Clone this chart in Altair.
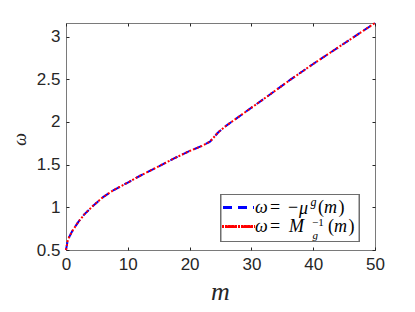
import altair as alt
import pandas as pd

# data
m_vals = [0, 0.25, 0.5, 1, 2, 3, 4.4, 6, 7.65, 10, 12, 15, 17.4, 20, 22, 23.3,
          24.65, 26, 28.7, 32, 36.2, 40, 45, 50]
omega_mu = [0.5, 0.6, 0.65, 0.72, 0.83, 0.92, 1.02, 1.12, 1.2, 1.29, 1.37, 1.48,
            1.57, 1.66, 1.72, 1.77, 1.88, 1.96, 2.10, 2.27, 2.49, 2.68, 2.92, 3.16]
omega_M = [0.5, 0.6, 0.65, 0.72, 0.83, 0.92, 1.02, 1.12, 1.2, 1.29, 1.37, 1.48,
           1.57, 1.66, 1.72, 1.77, 1.88, 1.96, 2.10, 2.27, 2.49, 2.68, 2.92, 3.16]
x_ticks = [0, 10, 20, 30, 40, 50]
y_ticks = [0.5, 1, 1.5, 2, 2.5, 3]

df_mu = pd.DataFrame({"m": m_vals, "omega": omega_mu})
df_M = pd.DataFrame({"m": m_vals, "omega": omega_M})

W, H = 309, 227
AX = "#262626"
LBL_FONT = "Liberation Sans"
MATH_FONT = "Liberation Serif"

xscale = alt.Scale(domain=[0, 50], nice=False, zero=False)
yscale = alt.Scale(domain=[0.5, 3.16], nice=False, zero=False)

x_bottom = alt.Axis(values=x_ticks, orient="bottom", offset=-3, tickSize=3, domain=False,
                    grid=False, labelPadding=6, labelFontSize=17, labelFont=LBL_FONT,
                    labelColor=AX, tickColor=AX, labelFlush=False, format="d",
                    title="m", titleFont=MATH_FONT,
                    titleFontStyle="italic", titleFontWeight="normal", titleFontSize=26,
                    titleColor=AX, titleX=154, titleY=52, titleBaseline="alphabetic",
                    titleAlign="center")
y_left = alt.Axis(values=y_ticks, orient="left", offset=-3, tickSize=3, domain=False,
                  grid=False, labelPadding=6, labelFontSize=17, labelFont=LBL_FONT,
                  labelColor=AX, tickColor=AX, labelFlush=False, format="~r",
                  title="ω", titleFont=MATH_FONT,
                  titleFontStyle="italic", titleFontWeight="normal", titleFontSize=18,
                  titleColor=AX, titleX=-49, titleY=116, titleBaseline="middle",
                  titleAlign="center", titleAngle=-90)
x_top = alt.Axis(values=x_ticks, orient="top", offset=-3, tickSize=3, domain=False,
                 grid=False, labels=False, tickColor=AX, title=None)
y_right = alt.Axis(values=y_ticks, orient="right", offset=-3, tickSize=3, domain=False,
                   grid=False, labels=False, tickColor=AX, title=None)

blue = alt.Chart(df_mu).mark_line(color="#0000ff", strokeWidth=2, strokeDash=[8, 5]).encode(
    x=alt.X("m:Q", scale=xscale, axis=x_bottom),
    y=alt.Y("omega:Q", scale=yscale, axis=y_left),
)
red = alt.Chart(df_M).mark_line(color="#ff0000", strokeWidth=2, strokeDash=[2, 2]).encode(
    x=alt.X("m:Q", scale=xscale, axis=x_top),
    y=alt.Y("omega:Q", scale=yscale, axis=y_right),
)

# legend (drawn by hand, to allow sub/superscripts)
box = alt.Chart(df_mu).mark_rect(fill="white", stroke="#6e6e6e", strokeWidth=1).encode(
    x=alt.value(155), x2=alt.value(293), y=alt.value(171.5), y2=alt.value(218.5))
leg_blue = alt.Chart(df_mu).mark_rule(color="#0000ff", strokeWidth=2, strokeDash=[9, 6]).encode(
    x=alt.value(157), x2=alt.value(188), y=alt.value(184.7))
leg_red = alt.Chart(df_mu).mark_rule(color="#ff0000", strokeWidth=2, strokeDash=[2, 1.2]).encode(
    x=alt.value(156), x2=alt.value(189), y=alt.value(203.7))


def txt(s, x, y, size=18, style="italic"):
    return alt.Chart(pd.DataFrame({"t": [s]})).mark_text(
        align="left", baseline="middle", font=MATH_FONT, fontSize=size,
        fontStyle=style, color="#000000").encode(
        text="t:N", x=alt.value(x), y=alt.value(y))


legend_texts = [
    txt("ω", 189, 184.5), txt("=", 204, 184.5, style="normal"),
    txt("−", 222, 184.5, style="normal"), txt("μ", 233, 185.5),
    txt("g", 244.5, 178.5, size=12),
    txt("(", 252, 184.5, style="normal"), txt("m", 258, 184.5),
    txt(")", 272.5, 184.5, style="normal"),
    txt("ω", 189, 203.5), txt("=", 204, 203.5, style="normal"),
    txt("M", 223, 203.5), txt("−1", 246, 199.5, size=11, style="normal"),
    txt("g", 246.5, 212.5, size=11),
    txt("(", 262, 203.5, style="normal"), txt("m", 268, 203.5),
    txt(")", 282.5, 203.5, style="normal"),
]

chart = alt.layer(blue, red, box, leg_blue, leg_red, *legend_texts).properties(
    width=W, height=H,
    autosize=alt.AutoSizeParams(type="none"),
    padding={"left": 58, "top": 15, "right": 30, "bottom": 54},
).configure_view(stroke="#7a7a7a", strokeWidth=1)

chart.save("out.html", embed_options={"renderer": "svg", "actions": False})
